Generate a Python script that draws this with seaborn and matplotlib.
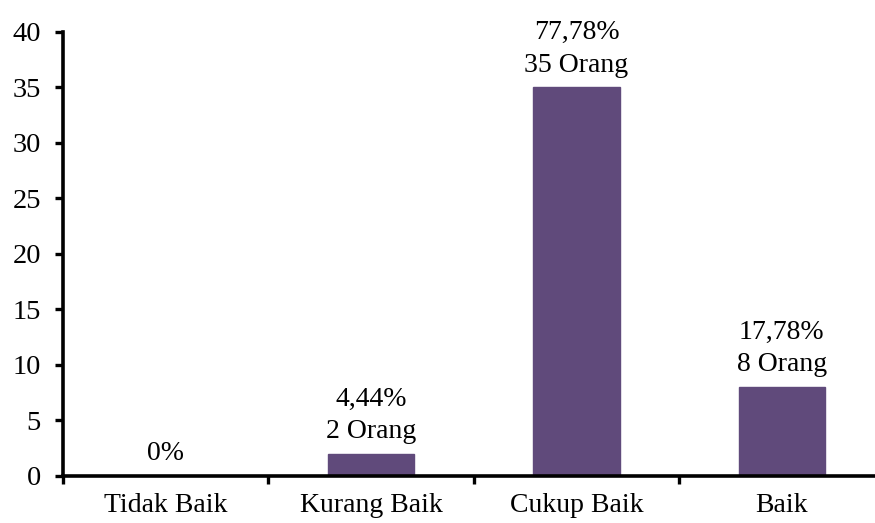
import matplotlib
matplotlib.use("Agg")
import matplotlib.pyplot as plt
import seaborn as sns
import pandas as pd
import numpy as np

categories = ["Tidak Baik", "Kurang Baik", "Cukup Baik", "Baik"]
counts = [0, 2, 35, 8]
percent_labels = ["0%", "4,44%", "77,78%", "17,78%"]
yticks = [0, 5, 10, 15, 20, 25, 30, 35, 40]

sns.set_theme(style="white")
plt.rcParams["font.family"] = ["Liberation Serif", "DejaVu Serif"]
plt.rcParams["text.color"] = "black"
plt.rcParams["xtick.color"] = "black"
plt.rcParams["ytick.color"] = "black"
plt.rcParams["xtick.labelcolor"] = "black"
plt.rcParams["ytick.labelcolor"] = "black"

df = pd.DataFrame({"kategori": categories, "jumlah": counts})

fig = plt.figure(figsize=(8.75, 5.23), dpi=100)
ax = fig.add_axes([0.072, 0.0899, 0.939, 0.849])

sns.barplot(data=df, x="kategori", y="jumlah", color="#604A7B", width=0.42,
            saturation=1, ax=ax, edgecolor="#604A7B")

for i, (c, p) in enumerate(zip(counts, percent_labels)):
    txt = p if c == 0 else f"{p}\n{c} Orang"
    ax.annotate(txt, xy=(i, c), xytext=(0, 7), textcoords="offset points",
                ha="center", va="bottom", fontsize=20, color="black",
                linespacing=1.4)

ax.set_xlim(-0.5, 3.5)
ax.set_ylim(0, 40)
ax.set_yticks(yticks)
ax.set_yticklabels([str(v) for v in yticks], fontsize=20.5)
ax.set_xlabel("")
ax.set_ylabel("")
ax.tick_params(axis="x", which="major", length=0, pad=12, labelsize=20)
ax.set_xticks([0.5 + k - 1 for k in range(5)], minor=True)
ax.tick_params(axis="x", which="minor", length=6, width=2.4, direction="out", bottom=True)
ax.tick_params(axis="y", which="major", length=6, width=2.4, direction="out", left=True, pad=10)

for s in ["top", "right"]:
    ax.spines[s].set_visible(False)
for s in ["left", "bottom"]:
    ax.spines[s].set_linewidth(2.6)
    ax.spines[s].set_color("black")

fig.savefig("out.png", dpi=100)
